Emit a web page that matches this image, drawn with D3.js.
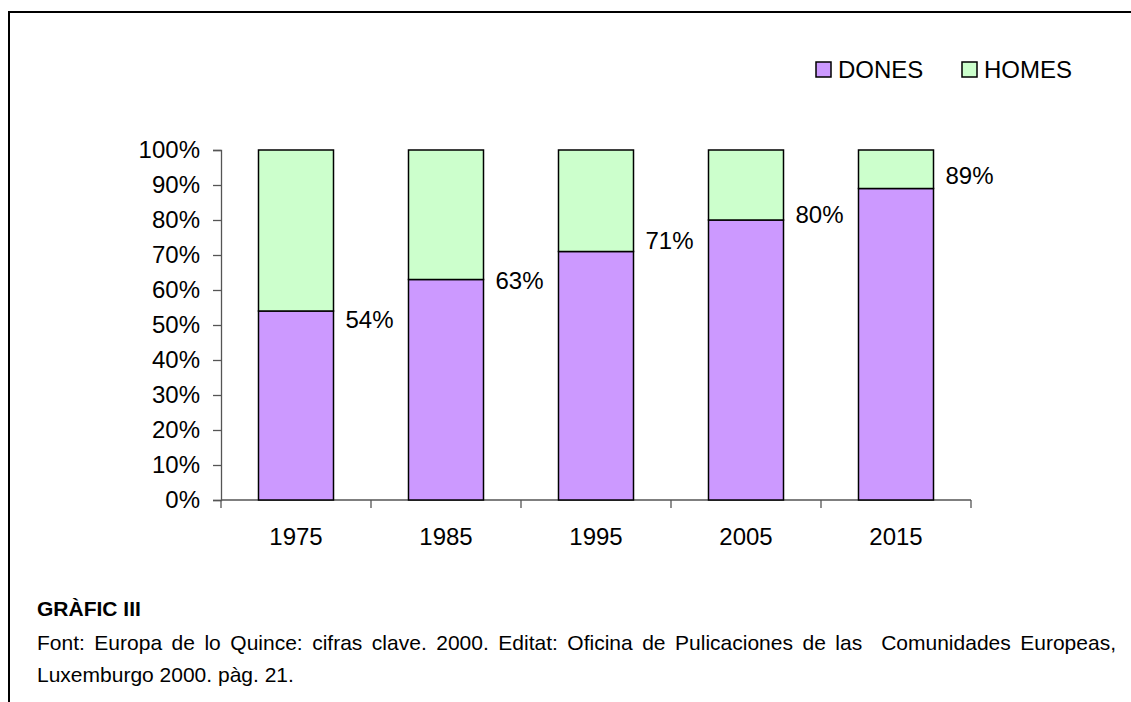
<!DOCTYPE html>
<html>
<head>
<meta charset="utf-8">
<script src="https://cdn.jsdelivr.net/npm/d3@7"></script>
<style>
  body { margin: 0; background: #fff; }
  #wrap { position: relative; width: 1131px; height: 702px; overflow: hidden; }
  svg { position: absolute; left: 0; top: 0; }
  .caption { position: absolute; left: 37px; width: 1079px; font-family: "Liberation Sans", Arial, sans-serif; color: #000; font-size: 21px; line-height: 24px; white-space: nowrap; }
  #title { top: 597px; font-weight: bold; }
  #line1 { top: 631px; text-align: justify; text-align-last: justify; }
  #line2 { top: 663px; }
</style>
</head>
<body>
<div id="wrap"></div>
<script>
// chart data
const years = ["1975", "1985", "1995", "2005", "2015"];
const dones = [0.54, 0.63, 0.71, 0.80, 0.89];
const homes = [0.46, 0.37, 0.29, 0.20, 0.11];
const seriesNames = ["DONES", "HOMES"];
const yTicks = [0, 0.1, 0.2, 0.3, 0.4, 0.5, 0.6, 0.7, 0.8, 0.9, 1];
// small vertical nudges of the value labels (as placed in the original)
const labelNudge = [9, 1, -11, -5, -13];

const colors = { DONES: "#cc99ff", HOMES: "#ccffcc" };
const font = "'Liberation Sans', Arial, sans-serif";
const fontSize = 24;
const width = 1131;
const height = 702;

const wrap = d3.select("#wrap");
const svg = wrap.append("svg")
  .attr("width", width)
  .attr("height", height);

// frame around the chart (only left and top edges visible)
svg.append("path")
  .attr("d", `M9,${height} L9,12 L${width},12`)
  .attr("fill", "none")
  .attr("stroke", "#000")
  .attr("stroke-width", 2);

const x = d3.scaleBand()
  .domain(years)
  .range([221, 971])
  .padding(0);

const y = d3.scaleLinear()
  .domain([0, 1])
  .range([500, 150]);

const barW = x.bandwidth() / 2;

// y axis
const yAxis = svg.append("g")
  .attr("transform", `translate(${x.range()[0]},0)`)
  .call(d3.axisLeft(y).tickValues(yTicks).tickFormat(d3.format(".0%")).tickSize(8).tickPadding(13));
yAxis.select(".domain").attr("stroke", "#555").attr("stroke-width", 1.3);
yAxis.selectAll(".tick line").attr("stroke", "#555").attr("stroke-width", 1.3);
yAxis.selectAll("text")
  .attr("font-family", font)
  .attr("font-size", fontSize)
  .attr("fill", "#000");

// x axis: labels centred, tick marks on band edges
const xAxis = svg.append("g")
  .attr("transform", `translate(0,${y(0)})`)
  .call(d3.axisBottom(x).tickSize(0).tickPadding(28));
xAxis.select(".domain").remove();
xAxis.selectAll("text")
  .attr("font-family", font)
  .attr("font-size", fontSize)
  .attr("fill", "#000");

svg.append("line")
  .attr("x1", x.range()[0]).attr("x2", x.range()[1])
  .attr("y1", y(0)).attr("y2", y(0))
  .attr("stroke", "#555").attr("stroke-width", 1.3);

svg.selectAll(".xtick")
  .data(years.map(d => x(d)).concat([x.range()[1]]))
  .enter().append("line")
    .attr("class", "xtick")
    .attr("x1", d => d).attr("x2", d => d)
    .attr("y1", y(0)).attr("y2", y(0) + 8)
    .attr("stroke", "#555").attr("stroke-width", 1.3);

// stacked bars
const stacked = years.map((yr, i) => ({ year: yr, DONES: dones[i], HOMES: homes[i] }));
const stack = d3.stack().keys(seriesNames)(stacked);

svg.append("g").selectAll("g")
  .data(stack)
  .enter().append("g")
    .attr("fill", d => colors[d.key])
  .selectAll("rect")
  .data(d => d)
  .enter().append("rect")
    .attr("x", d => x(d.data.year) + (x.bandwidth() - barW) / 2)
    .attr("width", barW)
    .attr("y", d => y(d[1]))
    .attr("height", d => y(d[0]) - y(d[1]))
    .attr("stroke", "#000")
    .attr("stroke-width", 1.5);

// value labels right of bars
svg.selectAll(".vlabel")
  .data(stacked)
  .enter().append("text")
    .attr("class", "vlabel")
    .attr("x", d => x(d.year) + (x.bandwidth() + barW) / 2 + 12)
    .attr("y", (d, i) => y(d.DONES) + labelNudge[i])
    .attr("dy", "0.35em")
    .attr("font-family", font)
    .attr("font-size", fontSize)
    .text(d => d3.format(".0%")(d.DONES));

// legend
const legendX = [816, 962];
const legend = svg.selectAll(".legend")
  .data(seriesNames)
  .enter().append("g")
    .attr("class", "legend")
    .attr("transform", (d, i) => `translate(${legendX[i]},62)`);
legend.append("rect")
  .attr("width", 15).attr("height", 15)
  .attr("fill", d => colors[d])
  .attr("stroke", "#000").attr("stroke-width", 1.5);
legend.append("text")
  .attr("x", 22).attr("y", 8)
  .attr("dy", "0.35em")
  .attr("font-family", font)
  .attr("font-size", fontSize)
  .text(d => d);

// caption
wrap.append("div").attr("class", "caption").attr("id", "title").text("GRÀFIC III");
wrap.append("div").attr("class", "caption").attr("id", "line1")
  .text("Font: Europa de lo Quince: cifras clave. 2000. Editat: Oficina de Pulicaciones de las\u00a0 Comunidades Europeas,");
wrap.append("div").attr("class", "caption").attr("id", "line2")
  .text("Luxemburgo 2000. pàg. 21.");
</script>
</body>
</html>
